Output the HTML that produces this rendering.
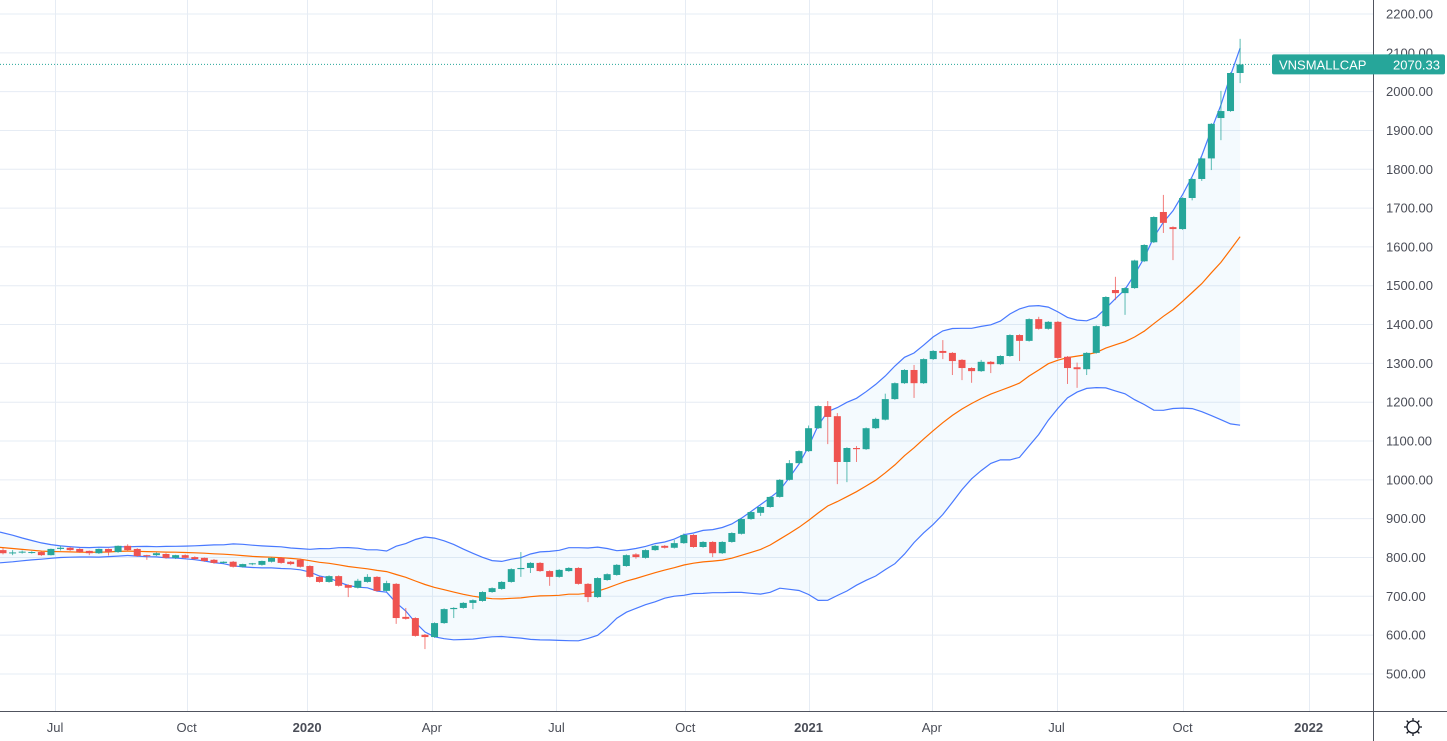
<!DOCTYPE html>
<html><head><meta charset="utf-8">
<style>
html,body{margin:0;padding:0;background:#fff;}
svg{display:block;font-family:"Liberation Sans",sans-serif;}
</style></head>
<body>
<svg id="chart" width="1447" height="741" viewBox="0 0 1447 741" xmlns="http://www.w3.org/2000/svg">
<rect x="0" y="0" width="1447" height="741" fill="#ffffff"/>
<g id="grid"></g>
<g id="bands"></g>
<g id="candles"></g>
<g id="axes"></g>
</svg>
<script>
const opens=[819,811,813,812,814,806,822,825,822,817,811,822,814,830,822,806,806,809,799,806,801,799,794,786,789,776,783,781,789,799,789,794,778,750,737,752,729,722,737,750,714,732,647,644,601,595,631,667,670,683,688,711,719,737,770,773,786,765,750,765,773,732,698,742,755,778,808,799,819,830,825,837,858,827,840,811,840,861,899,915,930,956,1000,1043,1074,1133,1190,1164,1046,1082,1079,1133,1155,1208,1249,1283,1249,1311,1332,1327,1309,1288,1280,1304,1298,1319,1373,1358,1414,1389,1407,1317,1290,1285,1327,1396,1489,1481,1494,1563,1612,1690,1651,1646,1726,1775,1828,1932,1950,2048];
const highs=[824,819,818,816,816,823,830,827,824,818,823,823,831,834,824,807,813,811,807,808,803,800,796,790,791,784,786,792,800,801,791,797,780,752,754,754,731,745,757,752,740,734,670,646,603,633,669,672,685,692,713,723,739,772,814,788,788,767,770,775,775,734,749,759,783,808,811,821,832,832,845,862,860,842,842,842,865,901,919,932,958,1002,1051,1076,1140,1192,1203,1172,1084,1087,1135,1160,1222,1251,1285,1296,1313,1334,1360,1329,1311,1290,1309,1306,1321,1375,1375,1416,1420,1409,1409,1319,1302,1329,1398,1473,1523,1496,1567,1607,1679,1734,1653,1728,1777,1830,1919,2002,2050,2136];
const lows=[808,806,810,810,804,805,818,817,812,806,809,805,812,817,802,794,804,797,796,797,794,789,784,784,774,774,780,779,787,784,780,774,748,735,735,725,698,720,735,712,712,629,640,596,564,593,629,644,668,667,686,709,717,735,750,760,763,727,748,763,730,685,696,740,753,776,797,797,817,823,823,835,825,825,801,809,838,859,897,907,928,954,998,1041,1072,1131,1092,989,994,1046,1077,1131,1153,1206,1247,1211,1247,1309,1311,1270,1257,1250,1278,1275,1296,1317,1306,1356,1387,1387,1312,1247,1237,1270,1325,1394,1463,1425,1492,1561,1610,1636,1566,1644,1720,1770,1798,1875,1948,2022];
const closes=[811,813,815,814,806,822,825,819,814,811,822,814,830,819,804,804,811,799,806,799,796,791,786,789,776,783,785,791,799,786,783,776,750,737,752,727,722,740,750,714,734,644,642,598,595,631,667,670,683,690,711,721,737,770,773,786,765,750,768,773,732,698,747,757,781,806,801,819,830,825,837,858,827,840,811,840,863,899,917,930,956,1000,1043,1074,1133,1190,1162,1046,1082,1079,1133,1157,1208,1249,1283,1249,1311,1332,1327,1306,1288,1280,1304,1298,1319,1373,1358,1414,1389,1407,1314,1288,1285,1327,1396,1471,1481,1494,1565,1605,1677,1662,1646,1726,1775,1828,1917,1950,2048,2070];
const priorCloses=[870,862,855,850,842,838,830,826,820,812,805,800,806,812,818,822,815,810,815];
const priceTicks=[500,600,700,800,900,1000,1100,1200,1300,1400,1500,1600,1700,1800,1900,2000,2100,2200];
const timeTickLabels=["Jul","Oct","2020","Apr","Jul","Oct","2021","Apr","Jul","Oct","2022"];
const timeTickDates=["2019-07-01","2019-10-05","2020-01-01","2020-04-01","2020-07-01","2020-10-03","2021-01-01","2021-04-01","2021-07-01","2021-10-01","2022-01-01"];
const firstDate="2019-05-24";
const lastLabel="VNSMALLCAP";
const lastValue=2070.33;

const NS="http://www.w3.org/2000/svg";
const PLOT_R=1373, PLOT_B=711;
function yOf(p){return 14+(2200-p)*0.3882;}
function xOf(i){return 3+i*9.59;}
function xOfDate(d){return xOf((new Date(d)-new Date(firstDate))/(7*86400000));}
function mk(tag,attrs,parent){const e=document.createElementNS(NS,tag);for(const k in attrs)e.setAttribute(k,attrs[k]);parent.appendChild(e);return e;}

const grid=document.getElementById('grid');
priceTicks.forEach(p=>{
  const l=mk('line',{x1:0,x2:PLOT_R,y1:yOf(p),y2:yOf(p),stroke:'#e6ecf4','stroke-width':1},grid);
  
  
});
timeTickDates.forEach(d=>{
  const x=Math.round(xOfDate(d))+0.5;
  const l=mk('line',{x1:x,x2:x,y1:0,y2:PLOT_B,stroke:'#e6ecf4','stroke-width':1},grid);
  
  
});

const all=priorCloses.concat(closes), off=priorCloses.length;
const mid=[],up=[],lo=[];
for(let i=0;i<closes.length;i++){
  const w=all.slice(i+off-19,i+off+1);
  const m=w.reduce((a,b)=>a+b,0)/w.length;
  const sd=Math.sqrt(w.reduce((a,b)=>a+(b-m)*(b-m),0)/w.length);
  mid.push(m);up.push(m+2*sd);lo.push(m-2*sd);
}
const bands=document.getElementById('bands');
const pts=a=>a.map((v,i)=>(i===0?0:xOf(i)).toFixed(1)+','+yOf(v).toFixed(1));
const fill=mk('polygon',{points:pts(up).concat(pts(lo).reverse()).join(' '),fill:'#2196f3','fill-opacity':0.05},bands);


const ub=mk('polyline',{points:pts(up).join(' '),fill:'none',stroke:'#2962ff','stroke-width':1.2,'stroke-opacity':0.85},bands);


const lb=mk('polyline',{points:pts(lo).join(' '),fill:'none',stroke:'#2962ff','stroke-width':1.2,'stroke-opacity':0.85},bands);


const mb=mk('polyline',{points:pts(mid).join(' '),fill:'none',stroke:'#ff6d00','stroke-width':1.2},bands);



const cg=document.getElementById('candles');
closes.forEach((c,i)=>{
  const o=opens[i],h=highs[i],l=lows[i];
  const upc=c>=o, col=upc?'#26a69a':'#ef5350';
  const x=xOf(i);
  const g=mk('g',{},cg);
  
  
  mk('line',{x1:x,x2:x,y1:yOf(h),y2:yOf(l),stroke:col,'stroke-width':1,'stroke-opacity':0.75},g);
  const top=yOf(Math.max(o,c)),bot=yOf(Math.min(o,c));
  mk('rect',{x:x-3.5,y:top,width:7,height:Math.max(1,bot-top),fill:col},g);
});

const ax=document.getElementById('axes');
const ll=mk('line',{x1:0,x2:PLOT_R,y1:yOf(lastValue),y2:yOf(lastValue),stroke:'#26a69a','stroke-width':1,'stroke-dasharray':'1,2'},ax);


mk('line',{x1:PLOT_R+0.5,x2:PLOT_R+0.5,y1:0,y2:741,stroke:'#50535e','stroke-width':1},ax);
mk('line',{x1:0,x2:1447,y1:PLOT_B+0.5,y2:PLOT_B+0.5,stroke:'#50535e','stroke-width':1},ax);
priceTicks.forEach(p=>{
  const t=mk('text',{x:1386,y:yOf(p)+4.5,'font-size':13,fill:'#4a4d57'},ax);
  t.textContent=p.toFixed(2);
  
  
});
timeTickLabels.forEach((s,i)=>{
  const yr=/^\d{4}$/.test(s);
  const t=mk('text',{x:xOfDate(timeTickDates[i]),y:732,'font-size':13,fill:'#4a4d57','text-anchor':'middle','font-weight':yr?'bold':'normal'},ax);
  t.textContent=s;
  
  
});
const tag=mk('g',{},ax);


mk('rect',{x:1272,y:yOf(lastValue)-10,width:173,height:20,rx:2,fill:'#26a69a'},tag);
const t1=mk('text',{x:1279,y:yOf(lastValue)+5,'font-size':13,fill:'#fff'},tag);t1.textContent=lastLabel;
const t2=mk('text',{x:1440,y:yOf(lastValue)+5,'font-size':13,fill:'#fff','text-anchor':'end'},tag);t2.textContent=lastValue.toFixed(2);
const gear=mk('g',{transform:'translate(1413,727)'},ax);


mk('circle',{r:6,fill:'none',stroke:'#131722','stroke-width':1.3},gear);
[0,45,90,135].forEach(a=>mk('line',{x1:-9,x2:9,y1:0,y2:0,stroke:'#131722','stroke-width':1.3,transform:'rotate('+a+')','stroke-dasharray':'3,12,3'},gear));
</script>
</body></html>
